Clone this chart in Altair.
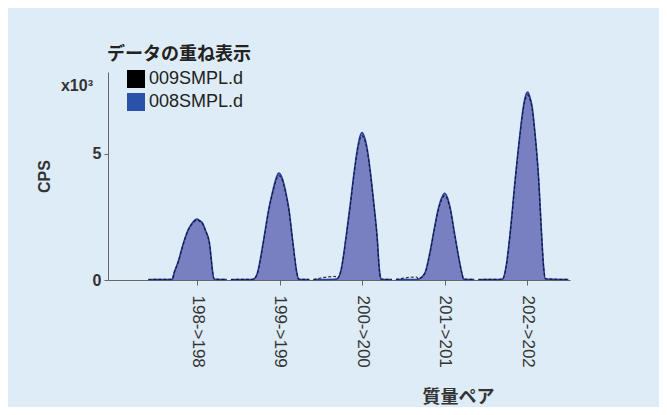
import altair as alt
import pandas as pd

SERIES = ["009SMPL.d", "008SMPL.d"]
SERIES_COLORS = ["#000000", "#2a52a8"]
PAIRS = ["198->198", "199->199", "200->200", "201->201", "202->202"]

# offsets from each mass-pair tick (in category widths) and CPS (x10^3)
OFFSETS = [
    [-0.59, -0.33, -0.30, -0.28, -0.23, -0.166, -0.11, -0.06, -0.025, 0, 0.03, 0.068, 0.10, 0.15, 0.175, 0.19, 0.21, 0.36],
    [-0.59, -0.33, -0.31, -0.27, -0.20, -0.133, -0.08, -0.035, -0.012, 0.03, 0.069, 0.114, 0.162, 0.21, 0.23, 0.36],
    [-0.59, -0.33, -0.30, -0.255, -0.194, -0.142, -0.093, -0.052, -0.02, 0, 0.025, 0.057, 0.097, 0.142, 0.182, 0.21, 0.23, 0.36],
    [-0.59, -0.34, -0.32, -0.24, -0.18, -0.128, -0.08, -0.03, 0, 0.03, 0.073, 0.114, 0.162, 0.21, 0.23, 0.36],
    [-0.59, -0.33, -0.295, -0.255, -0.202, -0.145, -0.081, -0.045, -0.01, 0.008, 0.03, 0.061, 0.092, 0.141, 0.173, 0.20, 0.222, 0.50],
]
CPS_008 = [
    [0.02, 0.02, 0.03, 0.27, 0.72, 1.46, 1.98, 2.25, 2.38, 2.42, 2.36, 2.25, 1.98, 1.46, 0.72, 0.27, 0.03, 0.02],
    [0.02, 0.02, 0.04, 0.27, 1.46, 2.78, 3.57, 4.10, 4.24, 4.05, 3.57, 2.78, 1.46, 0.27, 0.03, 0.02],
    [0.02, 0.03, 0.05, 0.40, 1.72, 3.04, 4.37, 5.29, 5.75, 5.85, 5.70, 5.29, 4.37, 3.04, 1.72, 0.40, 0.03, 0.02],
    [0.02, 0.02, 0.03, 0.27, 1.06, 1.98, 2.78, 3.30, 3.44, 3.30, 2.78, 1.98, 1.06, 0.27, 0.03, 0.02],
    [0.02, 0.02, 0.04, 0.53, 1.98, 3.97, 5.95, 6.88, 7.38, 7.45, 7.30, 6.88, 5.95, 3.97, 1.98, 0.53, 0.04, 0.02],
]
CPS_009 = [
    [0.02, 0.03, 0.04, 0.26, 0.70, 1.44, 1.96, 2.23, 2.34, 2.38, 2.33, 2.22, 1.96, 1.44, 0.70, 0.26, 0.04, 0.02],
    [0.02, 0.03, 0.05, 0.25, 1.42, 2.74, 3.52, 4.02, 4.14, 3.98, 3.52, 2.74, 1.44, 0.26, 0.04, 0.02],
    [0.02, 0.14, 0.07, 0.38, 1.68, 3.00, 4.32, 5.22, 5.64, 5.72, 5.60, 5.22, 4.32, 3.00, 1.70, 0.38, 0.04, 0.02],
    [0.02, 0.12, 0.05, 0.25, 1.02, 1.94, 2.72, 3.22, 3.35, 3.22, 2.72, 1.94, 1.04, 0.26, 0.04, 0.02],
    [0.02, 0.03, 0.05, 0.50, 1.94, 3.92, 5.90, 6.80, 7.28, 7.34, 7.20, 6.80, 5.90, 3.92, 1.95, 0.50, 0.05, 0.02],
]

rows = []
for s, table in zip(SERIES, [CPS_009, CPS_008]):
    for i, pair in enumerate(PAIRS):
        for k, (off, v) in enumerate(zip(OFFSETS[i], table[i])):
            rows.append({"series": s, "pair": pair, "x": i + 1 + off, "cps": v, "order": k})
df = pd.DataFrame(rows)

FONT = "Liberation Sans, Noto Sans CJK JP"
label_expr = "[" + ",".join(f"'{p}'" for p in PAIRS) + "][datum.value - 1]"

x_enc = alt.X("x:Q", scale=alt.Scale(domain=[-0.08, 5.52], nice=False, zero=False),
              axis=alt.Axis(values=[1, 2, 3, 4, 5], labelExpr=label_expr, labelAngle=90,
                            labelAlign="left", labelBaseline="middle", labelPadding=10,
                            labelFontSize=17, tickSize=5, grid=False,
                            title="質量ペア", titleFontSize=18, titleX=350, titleY=117,
                            titleAlign="center", titleBaseline="middle", titleFontWeight="bold"))
y_enc = alt.Y("cps:Q", scale=alt.Scale(domain=[0, 8.25], nice=False), stack=None,
              axis=alt.Axis(values=[0, 5], labelFontSize=16, labelFontWeight="bold",
                            tickSize=4, labelPadding=3, grid=False, title="CPS",
                            titleFontSize=16, titleFontWeight="bold", titlePadding=40))

base = alt.Chart(df)

area = base.transform_filter(alt.datum.series == SERIES[1]).mark_area(
    interpolate="monotone", color="#7880c2", opacity=1
).encode(x=x_enc, y=y_enc, detail="pair:N")

line008 = base.transform_filter(alt.datum.series == SERIES[1]).mark_line(
    interpolate="monotone", color="#26409a", strokeWidth=1.6
).encode(x="x:Q", y="cps:Q", detail="pair:N", order="order:Q")

line009 = base.transform_filter(alt.datum.series == SERIES[0]).mark_line(
    interpolate="monotone", color="#111122", strokeWidth=1.2, strokeDash=[3, 2], opacity=0.85
).encode(x="x:Q", y="cps:Q", detail="pair:N", order="order:Q")

legend_layer = base.mark_square(opacity=0, size=10).encode(
    x="x:Q", y="cps:Q",
    color=alt.Color("series:N", scale=alt.Scale(domain=SERIES, range=SERIES_COLORS),
                    legend=alt.Legend(title="データの重ね表示", orient="none", legendX=-1, legendY=-26,
                                      symbolType="square", symbolSize=324, symbolOpacity=1,
                                      symbolStrokeWidth=0, symbolOffset=20, labelOffset=4,
                                      labelFontSize=18, titleFontSize=18, titleFontWeight="bold",
                                      titlePadding=6, rowPadding=5, padding=0))
)

unit = pd.DataFrame({"t": ["x10³"]})
unit_text = alt.Chart(unit).mark_text(align="right", baseline="middle", fontSize=16,
                                      fontWeight="bold", color="#333", font=FONT).encode(
    text="t:N", x=alt.value(-15), y=alt.value(14))

chart = alt.layer(area, line008, line009, legend_layer, unit_text).properties(
    width=462, height=208,
    autosize=alt.AutoSizeParams(type="none"),
    padding={"left": 100, "top": 64, "right": 89, "bottom": 127},
).configure(background="#deecf7", font=FONT).configure_view(stroke=None).configure_axis(
    domainColor="#666", tickColor="#666", labelColor="#333", titleColor="#333", labelFont=FONT, titleFont=FONT
).configure_legend(labelColor="#222", titleColor="#222", labelFont=FONT, titleFont=FONT)

chart.save("out.html", embed_options={"renderer": "svg", "actions": False})
